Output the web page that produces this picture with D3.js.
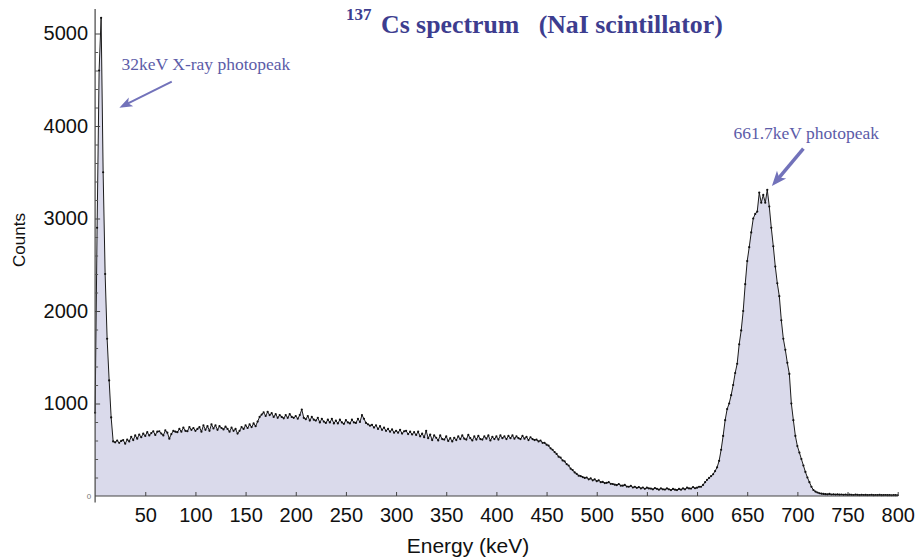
<!DOCTYPE html>
<html>
<head>
<meta charset="utf-8">
<script src="https://cdn.jsdelivr.net/npm/d3@7"></script>
<style>
  body { margin: 0; background: #fff; }
  svg { display: block; }
</style>
</head>
<body>
<div id="chart"></div>
<script>
// spectrum, one value every 2 keV (channel width)
const keVPerChannel = 2;

// 0 - 18 keV : X-ray peak
const xrayPeak = [900, 2900, 4600, 5170, 3500, 2400, 1700, 1250, 850, 590];

// 20 - 438 keV : Compton continuum
const compton = [
  580, 600, 575, 595, 605, 565, 610, 590, 640, 605,
  655, 620, 665, 635, 675, 650, 690, 655, 680, 700,
  660, 695, 700, 675, 655, 710, 685, 620, 670, 705,
  695, 690, 725, 695, 740, 705, 700, 745, 715, 735,
  705, 725, 745, 695, 765, 715, 755, 705, 775, 730,
  765, 715, 755, 735, 720, 750, 725, 695, 740, 705,
  725, 675, 705, 745, 725, 765, 735, 775, 745, 785,
  755, 805, 855, 880, 905, 865, 910, 875, 895, 855,
  885, 845, 875, 855, 840, 875, 845, 885, 855, 845,
  865, 835, 875, 935, 845, 830, 865, 815, 855, 825,
  815, 845, 795, 835, 805, 790, 825, 795, 835, 785,
  815, 785, 825, 795, 780, 820, 795, 785, 825, 795,
  790, 835, 800, 875, 835, 790, 775, 760, 770, 740,
  765, 725, 755, 715, 740, 705, 725, 695, 720, 685,
  705, 685, 715, 675, 700, 705, 670, 695, 665, 690,
  660, 695, 645, 675, 635, 705, 625, 665, 605, 655,
  630, 600, 655, 615, 610, 645, 595, 625, 590, 630,
  605, 645, 615, 655, 620, 610, 660, 625, 600, 645,
  610, 650, 615, 610, 645, 620, 655, 600, 640, 615,
  645, 610, 655, 625, 645, 615, 650, 625, 655, 620,
  645, 625, 615, 650, 620, 640, 605, 635, 615, 605
];

// 440 - 598 keV : Compton edge and valley
const comptonEdge = [
  610, 590, 600, 575, 575, 555, 545, 515, 500, 475,
  455, 425, 415, 385, 375, 345, 330, 295, 280, 255,
  240, 220, 215, 205, 195, 200, 180, 190, 170, 180,
  160, 170, 150, 152, 140, 142, 150, 132, 130, 122,
  118, 130, 112, 112, 120, 102, 100, 110, 92, 100,
  88, 96, 82, 92, 78, 90, 82, 80, 72, 86,
  78, 68, 82, 72, 70, 82, 72, 64, 76, 68,
  64, 76, 68, 82, 72, 90, 82, 80, 96, 84
];

// 600 - 726 keV : 661.7 keV photopeak
const photopeak = [
  90, 100, 100, 120, 150, 175, 195, 215, 235, 270,
  310, 380, 500, 650, 820, 940, 1000, 1090, 1200, 1330,
  1430, 1640, 1790, 2000, 2290, 2540, 2690, 2850, 3000, 3050,
  3075, 3280, 3170, 3255, 3170, 3310, 3130, 2900, 2700, 2480,
  2300, 2160, 1900, 1700, 1580, 1440, 1320, 1000, 820, 650,
  540, 470, 400, 330, 260, 200, 150, 100, 65, 48,
  38, 30, 25, 22
];

// 728 - 800 keV : tail
const tail = [
  20, 18, 22, 16, 18, 15, 17, 14, 16, 13,
  15, 12, 14, 13, 11, 14, 12, 10, 13, 11,
  12, 10, 11, 13, 9, 11, 10, 12, 9, 10,
  11, 9, 10, 8, 10, 9, 8
];

const xTicks = [50, 100, 150, 200, 250, 300, 350, 400, 450, 500, 550, 600, 650, 700, 750, 800];
const yTicks = [1000, 2000, 3000, 4000, 5000];
const yMinorTicks = [200, 400, 600, 800, 1200, 1400, 1600, 1800, 2200, 2400, 2600, 2800,
                     3200, 3400, 3600, 3800, 4200, 4400, 4600, 4800];

const counts = [].concat(xrayPeak, compton, comptonEdge, photopeak, tail);
const spectrum = counts.map((c, i) => ({energy: i * keVPerChannel, count: c}));

const W = 918, H = 558;
const sans = "'Liberation Sans', Arial, sans-serif";
const serif = "'Liberation Serif', 'Times New Roman', serif";

const x = d3.scaleLinear().domain([0, 800]).range([95.1, 897.7]);
const y = d3.scaleLinear().domain([0, 5000]).range([496, 33.5]);

const svg = d3.select("#chart").append("svg")
  .attr("width", W)
  .attr("height", H);

// filled spectrum
svg.append("path")
  .datum(spectrum)
  .attr("fill", "#dadaeb")
  .attr("d", d3.area().x(d => x(d.energy)).y0(y(0)).y1(d => y(d.count)));

svg.append("path")
  .datum(spectrum)
  .attr("fill", "none")
  .attr("stroke", "#1c1c1c")
  .attr("stroke-width", 1)
  .attr("stroke-linejoin", "round")
  .attr("d", d3.line().x(d => x(d.energy)).y(d => y(d.count)));

svg.append("g")
  .selectAll("circle")
  .data(spectrum)
  .enter()
  .append("circle")
    .attr("cx", d => x(d.energy))
    .attr("cy", d => y(d.count))
    .attr("r", 1.1)
    .attr("fill", "#111");

// axes lines (Mathematica style, y axis runs a little past the origin)
svg.append("line")
  .attr("x1", x(0)).attr("x2", x(800))
  .attr("y1", y(0)).attr("y2", y(0))
  .attr("stroke", "#444").attr("stroke-width", 1.2);
svg.append("line")
  .attr("x1", x(0)).attr("x2", x(0))
  .attr("y1", y(-70)).attr("y2", y(5265))
  .attr("stroke", "#444").attr("stroke-width", 1.2);

// X axis
const xAxis = svg.append("g")
  .attr("transform", `translate(0, ${y(0)})`)
  .call(d3.axisBottom(x).tickValues(xTicks).tickSizeInner(-4).tickSizeOuter(0).tickPadding(12));
xAxis.select(".domain").remove();
xAxis.selectAll("line").attr("stroke", "#444");
xAxis.attr("font-family", sans).attr("font-size", 20);
xAxis.selectAll("text").attr("fill", "#111");

// Y axis
const yAxis = svg.append("g")
  .attr("transform", `translate(${x(0)}, 0)`)
  .call(d3.axisLeft(y).tickValues(yTicks).tickFormat(d3.format("d"))
    .tickSizeInner(-5).tickSizeOuter(0).tickPadding(7));
yAxis.select(".domain").remove();
yAxis.selectAll("line").attr("stroke", "#444");
yAxis.attr("font-family", sans).attr("font-size", 20);
yAxis.selectAll("text").attr("fill", "#111");

const yMinor = svg.append("g")
  .attr("transform", `translate(${x(0)}, 0)`)
  .call(d3.axisLeft(y).tickValues(yMinorTicks).tickSizeInner(-3).tickSizeOuter(0).tickFormat(""));
yMinor.select(".domain").remove();
yMinor.selectAll("line").attr("stroke", "#555");

svg.append("text")
  .attr("x", x(0) - 4)
  .attr("y", y(0))
  .attr("dy", "0.32em")
  .attr("text-anchor", "end")
  .attr("font-family", sans)
  .attr("font-size", 8)
  .attr("fill", "#777")
  .text("0");

// axis titles
svg.append("text")
  .attr("transform", "translate(25, 240) rotate(-90)")
  .attr("text-anchor", "middle")
  .attr("font-family", sans)
  .attr("font-size", 17)
  .attr("fill", "#111")
  .text("Counts");

svg.append("text")
  .attr("x", 468)
  .attr("y", 553)
  .attr("text-anchor", "middle")
  .attr("font-family", sans)
  .attr("font-size", 21)
  .attr("fill", "#111")
  .text("Energy (keV)");

// title
const title = svg.append("text")
  .attr("font-family", serif)
  .attr("font-weight", "bold")
  .attr("fill", "#3d3d8f")
  .style("white-space", "pre");
title.append("tspan").attr("x", 346).attr("y", 20).attr("font-size", 17).text("137");
title.append("tspan").attr("x", 381).attr("y", 33).attr("font-size", 25.8).text("Cs spectrum   (NaI scintillator)");

// annotations
const noteColor = "#5c5ca8";
const arrowColor = "#7272ba";

function arrow(from, to, width, headLen, headWid) {
  const x1 = x(from[0]), y1 = y(from[1]), x2 = x(to[0]), y2 = y(to[1]);
  const a = Math.atan2(y2 - y1, x2 - x1);
  const bx = x2 - headLen * Math.cos(a), by = y2 - headLen * Math.sin(a);
  const px = -Math.sin(a) * headWid / 2, py = Math.cos(a) * headWid / 2;
  svg.append("line")
    .attr("x1", x1).attr("y1", y1).attr("x2", bx + headLen * 0.3 * Math.cos(a)).attr("y2", by + headLen * 0.3 * Math.sin(a))
    .attr("stroke", arrowColor).attr("stroke-width", width);
  svg.append("path")
    .attr("d", `M${x2},${y2}L${bx + px},${by + py}L${bx + headLen * 0.25 * Math.cos(a)},${by + headLen * 0.25 * Math.sin(a)}L${bx - px},${by - py}Z`)
    .attr("fill", arrowColor);
}

svg.append("text")
  .attr("x", x(26.4))
  .attr("y", y(4605))
  .attr("font-family", serif)
  .attr("font-size", 17.5)
  .attr("fill", noteColor)
  .text("32keV X-ray photopeak");
arrow([76.4, 4480], [24.2, 4198], 2, 13, 10);

svg.append("text")
  .attr("x", x(636.3))
  .attr("y", y(3860))
  .attr("font-family", serif)
  .attr("font-size", 17.5)
  .attr("fill", noteColor)
  .text("661.7keV photopeak");
arrow([706, 3755], [674.6, 3351], 3.5, 15, 12);
</script>
</body>
</html>
